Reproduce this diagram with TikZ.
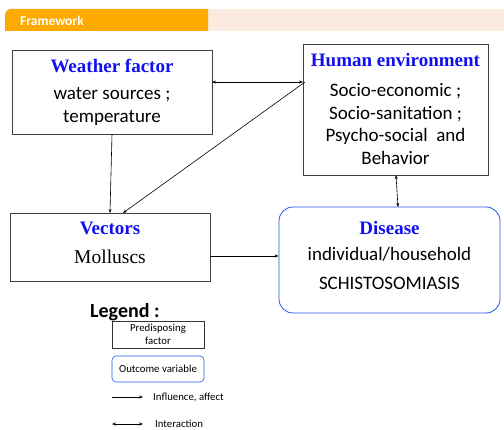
\documentclass[tikz,border=0pt]{standalone}
\usepackage{fontspec}
\setmainfont{Carlito}
\newfontfamily\tms{Liberation Serif}
\usetikzlibrary{arrows.meta}
\definecolor{hdrorange}{HTML}{FFAA00}
\definecolor{hdrpink}{HTML}{FBEAE0}
\definecolor{ttlblue}{HTML}{1010F0}
\definecolor{dzblue}{HTML}{2255EE}
\begin{document}
\begin{tikzpicture}[x=1pt,y=-1pt,
  factorbox/.style={draw=black!75,line width=0.8pt},
  outbox/.style={draw=dzblue,line width=0.8pt,rounded corners=14pt},
  ttl/.style={font=\tms\bfseries\fontsize{19}{21}\selectfont,text=ttlblue,inner sep=0pt},
  body/.style={font=\fontsize{19}{22}\selectfont,inner sep=0pt},
  lgd/.style={font=\fontsize{10.8}{13}\selectfont,inner sep=0pt},
  conn/.style={line width=0.6pt,-{Stealth[length=4pt,width=3pt]}},
  iconn/.style={line width=0.6pt,{Stealth[length=4pt,width=3pt]}-{Stealth[length=4pt,width=3pt]}}
]
\useasboundingbox (0,0) rectangle (504,430);
% header
\fill[hdrpink] (208,9) rectangle (504,31);
\fill[hdrorange] (208,31) -- (208,9) -- (11,9) arc[start angle=270,end angle=180,radius=6] -- (5,31) -- cycle;
\node[font=\bfseries\fontsize{13.5}{15}\selectfont,text=white,anchor=west,inner sep=0pt] (hdr) at (20,21) {Framework};

% boxes
\node[factorbox,minimum width=200pt,minimum height=84pt] (weather) at (112,92) {};
\node[ttl] (weatherT) at (112,66) {Weather factor};
\node[body] (weatherB1) at (112,95) {water sources ;};
\node[body] (weatherB2) at (112,118) {temperature};

\node[factorbox,minimum width=185pt,minimum height=131pt] (human) at (395.5,109.5) {};
\node[ttl] (humanT) at (395.5,60) {Human environment};
\node[body,align=center,font=\fontsize{19}{22.5}\selectfont] (humanB) at (395.5,124) {Socio-economic ;\\Socio-sanitation ;\\Psycho-social\ \ and\\Behavior};

\node[factorbox,minimum width=200pt,minimum height=68pt] (vectors) at (110,247) {};
\node[ttl] (vectorsT) at (110,228) {Vectors};
\node[font=\tms\fontsize{19.5}{21}\selectfont,inner sep=0pt] (vectorsB) at (110,257) {Molluscs};

\node[outbox,minimum width=221pt,minimum height=106pt] (disease) at (389.5,260) {};
\node[ttl] (diseaseT) at (389.5,228) {Disease};
\node[body] (diseaseB1) at (389.5,254) {individual/household};
\node[body] (diseaseB2) at (389.5,283) {SCHISTOSOMIASIS};

% connectors
\coordinate (wE) at (212,82);
\coordinate (hW) at (303,82);
\draw[iconn] (wE) -- (hW);
\coordinate (hW2) at (305,82);
\coordinate (vN2) at (123,213);
\draw[conn] (hW2) -- (vN2);
\draw[conn] (weather.south -| 112,0) -- (110,213);
\draw[conn] (vectors.east |- 0,256) -- (disease.west |- 0,256);
\draw[iconn] (396,175) -- (398,207);

% legend
\node[font=\bfseries\fontsize{20}{22}\selectfont,anchor=west,inner sep=0pt] (legT) at (90,312) {Legend :};
\node[draw=black!80,line width=0.6pt,minimum width=92pt,minimum height=27pt,lgd,align=center,font=\fontsize{10.8}{12.5}\selectfont] (legF) at (158,334.5) {Predisposing\\factor};
\node[draw=dzblue,line width=0.6pt,rounded corners=4pt,minimum width=92pt,minimum height=26pt,lgd] (legO) at (158,369) {Outcome variable};
\coordinate (la1) at (112,397);
\coordinate (la2) at (143,397);
\draw[conn] (la1) -- (la2);
\node[lgd,anchor=west] (legI) at (153,397) {Influence, affect};
\coordinate (lb1) at (112,424);
\coordinate (lb2) at (143,424);
\draw[iconn] (lb1) -- (lb2);
\node[lgd,anchor=west] (legX) at (155,424) {Interaction};
\end{tikzpicture}
\end{document}
